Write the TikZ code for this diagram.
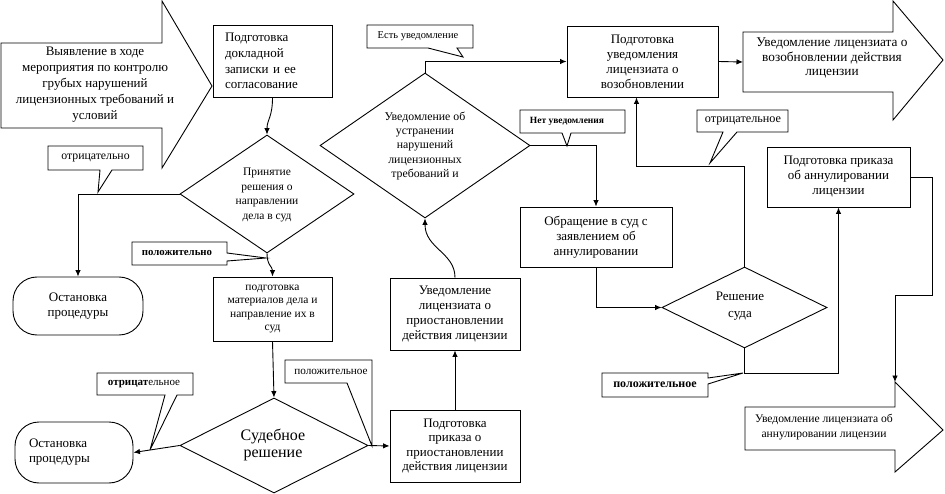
\documentclass[tikz,border=0pt]{standalone}
\usepackage{fontspec}
\setmainfont{Liberation Serif}
\usetikzlibrary{arrows.meta,shapes.geometric}
\begin{document}
\begin{tikzpicture}[x=1pt,y=-1pt,line width=0.9pt,
  fs/.style 2 args={font=\fontsize{#1}{#2}\selectfont},
  box/.style={draw,rectangle,inner sep=0pt,align=center,fs={13}{15.5}},
  stad/.style={draw,rectangle,rounded corners=24pt,inner sep=0pt,align=center,fs={13}{15.5}},
  diam/.style={draw,diamond,inner sep=0pt},
  dtext/.style={align=center,inner sep=0pt},
  ctext/.style={inner sep=0pt,fs={10.5}{12}},
  bigtext/.style={align=center,inner sep=0pt,fs={13}{16}},
  arr/.style={-{Latex[length=6.5pt,width=5.5pt]}}]
\useasboundingbox (0,0) rectangle (945,494);

% big arrows
\draw (1,43) -- (162,43) -- (162,1) -- (212,86) -- (162,168) -- (162,128) -- (1,128) -- cycle;
\node[bigtext] (Z1) at (95,85) {Выявление в ходе\\мероприятия по контролю\\грубых нарушений\\лицензионных требований и\\условий};
\draw (743,32) -- (893,32) -- (893,1) -- (943,60) -- (893,120) -- (893,92) -- (743,92) -- cycle;
\node[bigtext,fs={13.3}{14.5}] (Z2) at (832,58) {Уведомление лицензиата о\\возобновлении действия\\лицензии};
\coordinate (Z2in) at (743,62);
\draw (745,407) -- (895,407) -- (895,382) -- (943,430) -- (895,472) -- (895,450) -- (745,450) -- cycle;
\node[bigtext,fs={11.6}{15}] (Z3) at (824,427) {Уведомление лицензиата об\\аннулировании лицензии};
\coordinate (Z3top) at (895,382);

% boxes
\node[box,minimum width=119pt,minimum height=72pt,text width=95pt,align=left,fs={13}{15.7}] (A) at (272.5,61) {Подготовка\\докладной\\записки и ее\\согласование};
\node[box,minimum width=119pt,minimum height=64pt,fs={11.5}{13.3}] (F) at (272.5,309) {подготовка\\материалов дела и\\направление их в\\суд};
\node[box,minimum width=130pt,minimum height=72pt,fs={13}{15}] (G) at (455,314) {Уведомление\\лицензиата о\\приостановлении\\действия лицензии};
\node[box,minimum width=130pt,minimum height=72pt,fs={13}{14.5}] (H) at (455,446) {Подготовка\\приказа о\\приостановлении\\действия лицензии};
\node[box,minimum width=151pt,minimum height=71pt,fs={13}{15}] (I) at (642.5,61.5) {Подготовка\\уведомления\\лицензиата о\\возобновлении};
\node[box,minimum width=152pt,minimum height=60pt,fs={13}{15}] (J) at (596,237) {Обращение в суд с\\заявлением об\\аннулировании};
\node[box,minimum width=143pt,minimum height=60pt,fs={13}{15}] (K) at (838.5,177) {Подготовка приказа\\об аннулировании\\лицензии};
\node[stad,minimum width=130pt,minimum height=58pt] (L1) at (78,306) {Остановка\\процедуры};
\node[stad,minimum width=118pt,minimum height=61pt,text width=90pt,align=left,fs={13}{15}] (L2) at (74,452.5) {Остановка\\процедуры};

% diamonds
\node[diam,minimum width=174pt,minimum height=118pt] (B) at (267,194) {};
\node[dtext,fs={11.5}{14.7}] (Bt) at (267,195) {Принятие\\решения о\\направлении\\дела в суд};
\node[diam,minimum width=210pt,minimum height=145pt] (C) at (425,145.5) {};
\node[dtext,fs={11.8}{14.3}] (Ct) at (425,146) {Уведомление об\\устранении\\нарушений\\лицензионных\\требований и};
\node[diam,minimum width=188pt,minimum height=95pt] (D) at (274,445.5) {};
\node[dtext,fs={16}{16.5}] (Dt) at (273,445) {Судебное\\решение};
\node[diam,minimum width=165pt,minimum height=81pt] (E) at (744.5,307.5) {};
\node[dtext,fs={13}{17}] (Et) at (740,306) {Решение\\суда};

% connectors
\draw[arr] (A.south) .. controls +(0,20) and +(0,-15) .. (B.north);
\draw[arr] (B.west) -| (L1.north);
\draw[arr] (B.south) .. controls +(0,12) and +(0,-10) .. (F.north);
\draw[arr] (F.south) -- (D.north);
\draw[arr] (D.west) -- (150,450) -- (L2.east);
\draw[arr] (D.east) -- (H.west);
\draw[arr] (H.north) -- (G.south);
\draw[arr] (G.north) .. controls +(0,-25) and +(0,30) .. (C.south);
\draw[arr] (C.north) |- (I.west);
\draw[arr] (C.east) -| (J.north);
\draw[arr] (J.south) |- (E.west);
\draw[arr] (E.north) -- ++(0,-100) -| ([xshift=-6pt]I.south);
\draw[arr] (E.south) -- ++(0,25) -| (K.south);
\draw[arr] (K.east) -| (932,295) -| (Z3top);
\draw[arr] (I.east) -- (Z2in);

% callouts
\draw (48,146) -- (143,146) -- (143,170) -- (112,170) -- (98,192) -- (100,170) -- (48,170) -- cycle;
\node[ctext,fs={11.8}{13}] (c1) at (95.5,158) {отрицательно};
\draw (132,242) -- (227,242) -- (227,253) -- (266,258) -- (227,261) -- (227,265) -- (132,265) -- cycle;
\node[ctext,font=\fontsize{10.8}{12}\selectfont\bfseries] (c2) at (177,253.5) {положительно};
\draw (367,25) -- (473,25) -- (473,48) -- (457,48) -- (463,57) -- (428,48) -- (367,48) -- cycle;
\node[ctext,fs={10.5}{12}] (c3) at (418,36.5) {Есть уведомление};
\draw (520,110) -- (625,110) -- (625,133) -- (571,133) -- (567,146) -- (562,133) -- (520,133) -- cycle;
\node[ctext,font=\fontsize{9.5}{12}\selectfont\bfseries] (c4) at (567,121.5) {Нет уведомления};
\draw (697,110) -- (788,110) -- (788,132) -- (737,132) -- (710,163) -- (723,132) -- (697,132) -- cycle;
\node[ctext,fs={12.2}{13}] (c5) at (743,121) {отрицательное};
\draw (602,373) -- (708,373) -- (708,378) -- (743,373) -- (708,384) -- (708,397) -- (602,397) -- cycle;
\node[ctext,font=\fontsize{12}{13}\selectfont\bfseries] (c6) at (655,385) {положительное};
\draw (97,373) -- (193,373) -- (193,395) -- (177,395) -- (150,450) -- (165,395) -- (97,395) -- cycle;
\node[ctext,fs={11}{13}] (c7) at (144,384) {\textbf{отрицат}ельное};
\draw (285,360) -- (372,360) -- (372,446) -- (347,383) -- (285,383) -- cycle;
\node[ctext,fs={11.2}{13}] (c8) at (331,371.5) {положительное};
\end{tikzpicture}
\end{document}
